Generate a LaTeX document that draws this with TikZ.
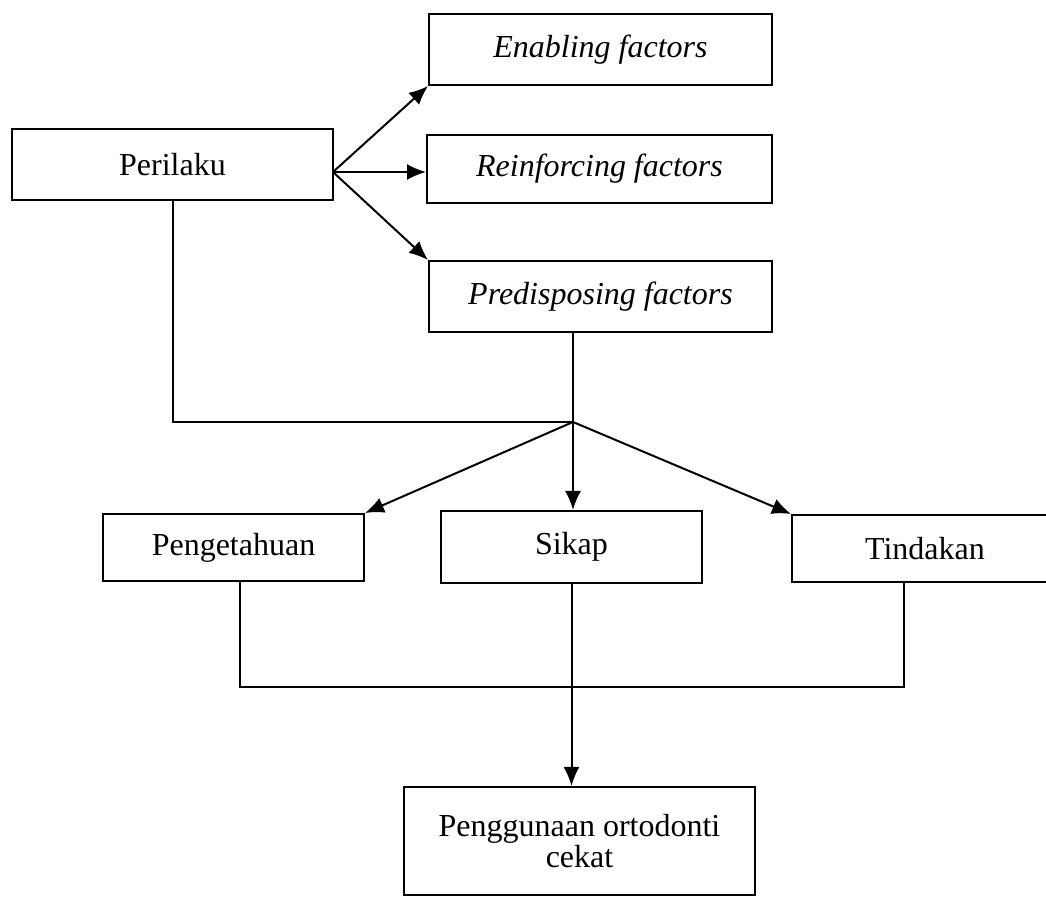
\documentclass[tikz,border=0pt]{standalone}
\usepackage{fontspec}
\setmainfont{Liberation Serif}
\usetikzlibrary{arrows.meta}

\begin{document}
\begin{tikzpicture}[x=0.5pt, y=-0.5pt, line width=1pt,
  box/.style={draw, inner sep=0pt, align=center, font=\fontsize{16}{14.5}\selectfont},
  arr/.style={-{Latex[length=9.5pt, width=8pt]}}]

\clip (0,0) rectangle (1046,897);
\fill[white] (0,0) rectangle (1046,897);

\node[box, minimum width=160.5pt, minimum height=35.5pt] (perilaku) at (172.5,164.5) {Perilaku};
\node[box, minimum width=171.5pt, minimum height=35.5pt] (enabling) at (600.5,49.5) {\textit{Enabling factors}};
\node[box, minimum width=172.5pt, minimum height=34pt] (reinforcing) at (599.5,169) {\textit{Reinforcing factors}};
\node[box, minimum width=171.5pt, minimum height=35.5pt] (predisposing) at (600.5,296.5) {\textit{Predisposing factors}};

\node[box, minimum width=130.5pt, minimum height=33.5pt] (pengetahuan) at (233.5,547.5) {Pengetahuan};
\node[box, minimum width=130.5pt, minimum height=36pt] (sikap) at (571.5,547) {Sikap};
\node[box, minimum width=133pt, minimum height=33.5pt] (tindakan) at (925,548.5) {Tindakan};
\node[box, minimum width=175.5pt, minimum height=54pt] (hasil) at (579.5,841) {Penggunaan ortodonti\\cekat};

\coordinate (fanout) at (333,172);
\coordinate (merge) at (573,422);
\coordinate (join) at (572,687);

% Perilaku ke tiga faktor
\draw[arr] (fanout) -- (enabling.south west);
\draw[arr] (fanout) -- (fanout -| reinforcing.west);
\draw[arr] (fanout) -- (predisposing.north west);

% pertemuan
\draw (perilaku.south) -- (perilaku.south |- merge) -- (merge);
\draw (predisposing.south -| merge) -- (merge);
\draw[arr] (merge) -- (pengetahuan.north east);
\draw[arr] (merge) -- (merge |- sikap.north);
\draw[arr] (merge) -- (tindakan.north west);

% ke hasil
\draw ([xshift=3.25pt]pengetahuan.south) |- (join) -| ([xshift=-10.5pt]tindakan.south);
\draw[arr] (sikap.south) -- (sikap.south |- hasil.north);

\end{tikzpicture}
\end{document}
